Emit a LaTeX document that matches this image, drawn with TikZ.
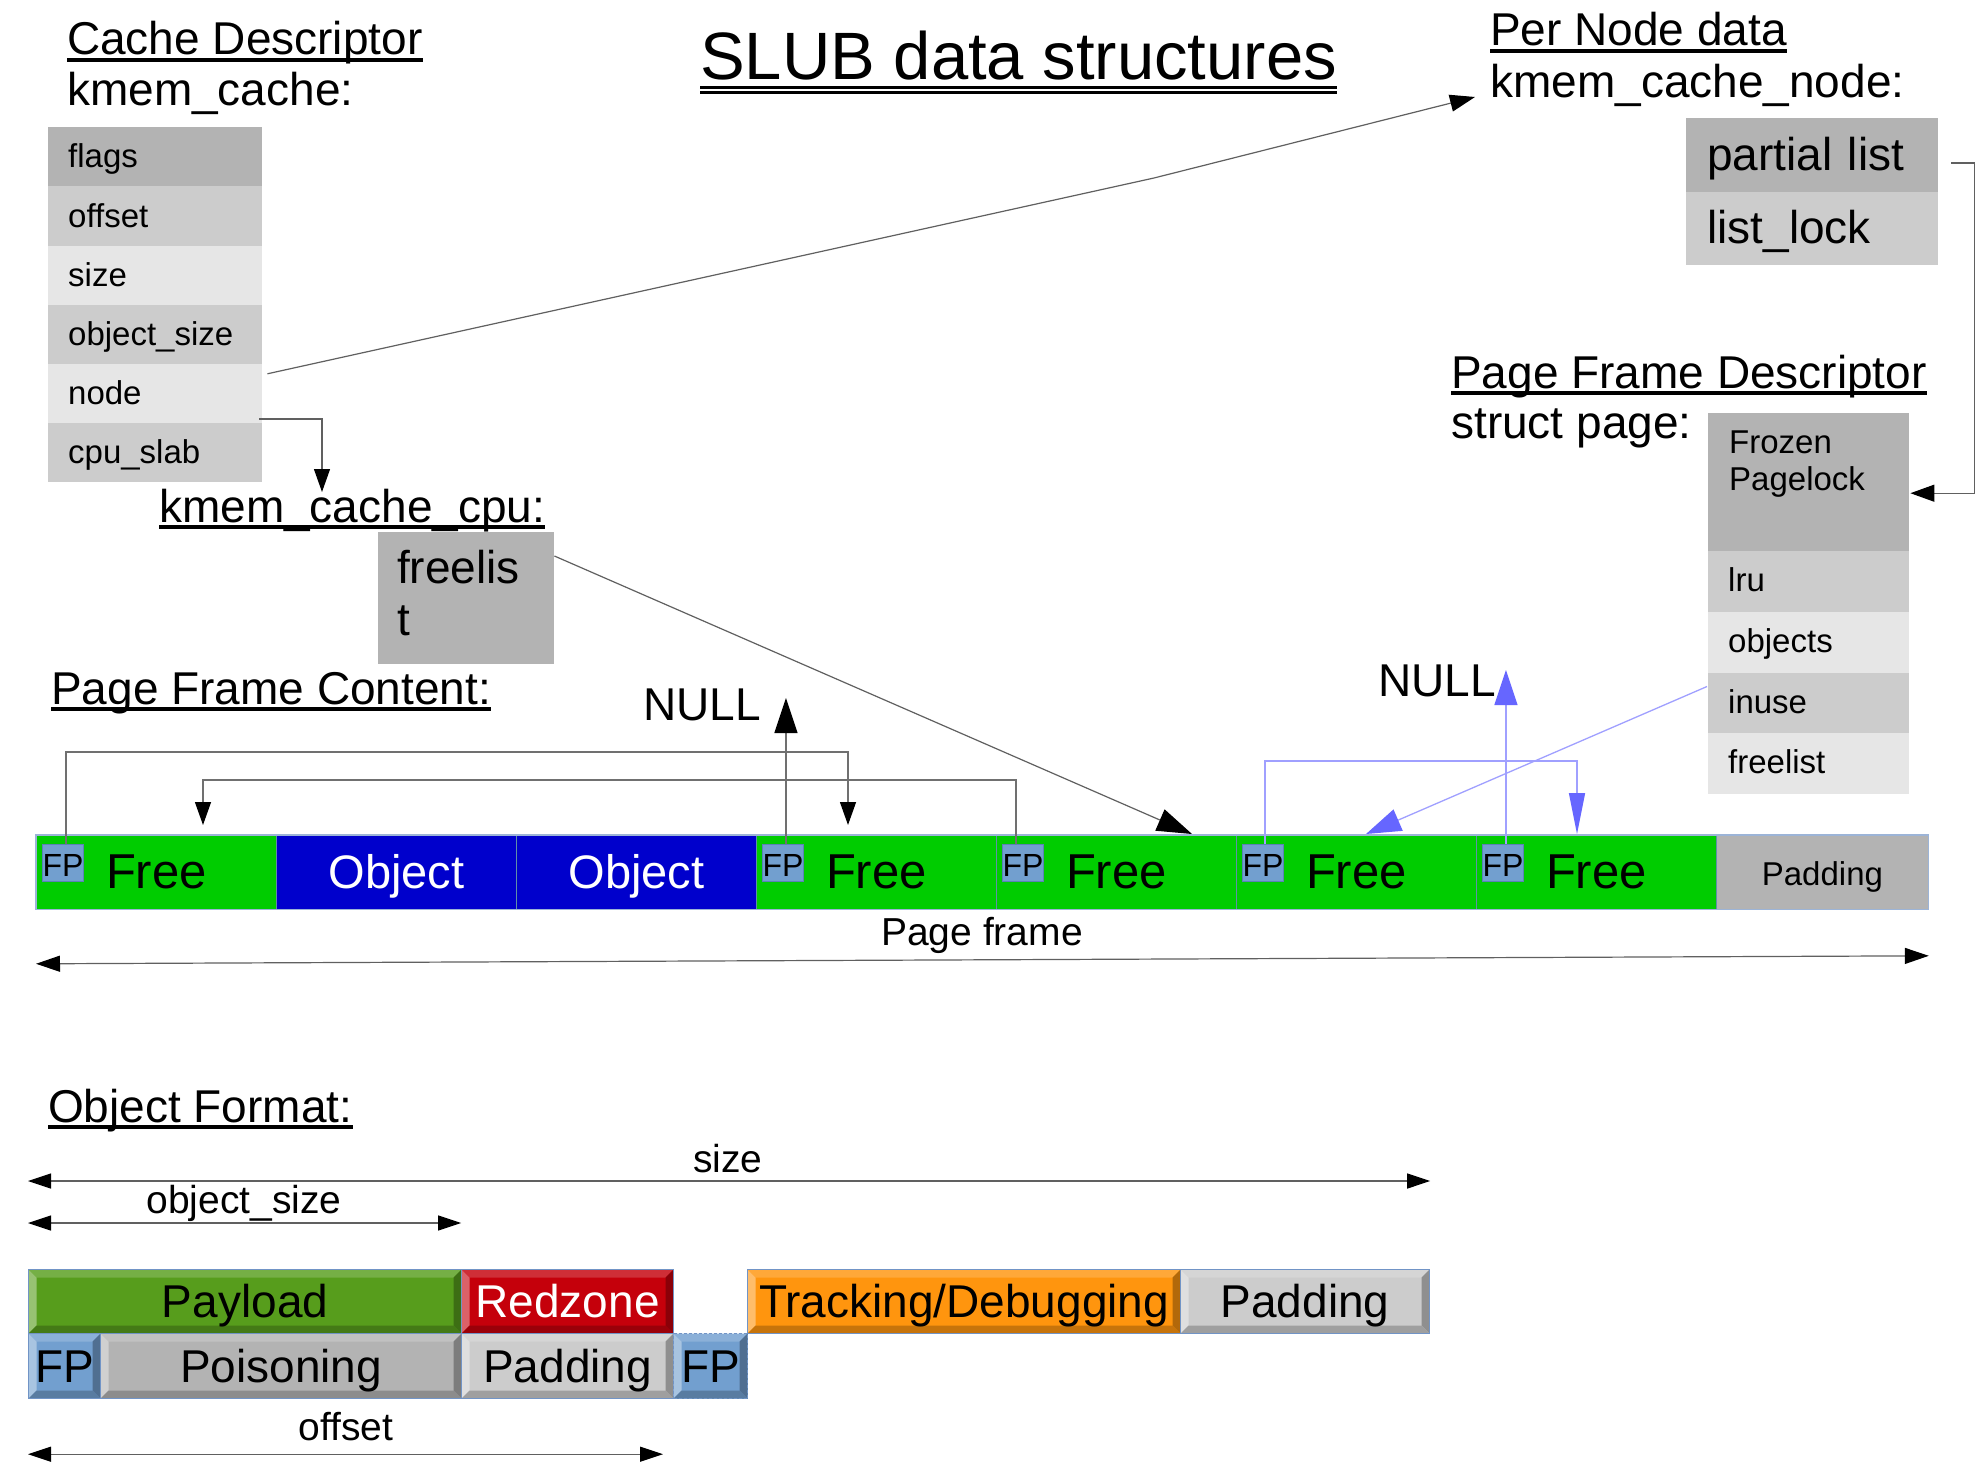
\documentclass[tikz,border=0pt]{standalone}
\usepackage{fontspec}
\setmainfont{Liberation Sans}
\usetikzlibrary{arrows.meta,calc}
\definecolor{g1}{HTML}{E6E6E6}
\definecolor{g2}{HTML}{CCCCCC}
\definecolor{g3}{HTML}{B3B3B3}
\definecolor{fgreen}{HTML}{00CC00}
\definecolor{oblue}{HTML}{0000CC}
\definecolor{fpblue}{HTML}{729FCF}
\definecolor{fpedge}{HTML}{5B82B5}
\definecolor{bord}{HTML}{7194C6}
\definecolor{sepc}{HTML}{5F8FA8}
\definecolor{lgray}{HTML}{707070}
\definecolor{dgray}{HTML}{606060}
\definecolor{bline}{HTML}{A0A0FF}
\definecolor{bhead}{HTML}{6666FF}
\definecolor{pgreen}{HTML}{579D1C}
\definecolor{rred}{HTML}{C5000B}
\definecolor{torange}{HTML}{FF950E}
\newcommand\fsz[2]{\fontsize{#1}{#2}\selectfont}
\begin{document}
\begin{tikzpicture}[x=1pt,y=-1pt,
  hdr/.style={anchor=base west, inner sep=0pt, font=\fsz{46}{52}},
  lbl/.style={anchor=base, inner sep=0pt, font=\fsz{39}{44}},
  uline/.style={line width=3.2pt},
  kc/.style={anchor=north west, minimum width=214pt, minimum height=59.2pt, text width=174pt, inner xsep=20pt, inner ysep=0pt, align=left, font=\fsz{33}{38}, text height=26pt, text depth=4pt, fill=#1},
  pr/.style={anchor=north west, minimum width=201pt, minimum height=60.75pt, text width=161pt, inner xsep=20pt, inner ysep=0pt, align=left, font=\fsz{33}{38}, text height=25pt, text depth=5pt, fill=#1},
  nr/.style={anchor=north west, minimum width=252pt, minimum height=73.5pt, text width=210pt, inner xsep=21pt, inner ysep=0pt, align=left, font=\fsz{46}{52}, text height=36pt, text depth=5pt, fill=#1},
  pc/.style={anchor=north west, minimum width=240pt, minimum height=74pt, inner sep=0pt, font=\fsz{49}{55}, text height=37pt, text depth=5pt, draw=sepc, line width=0.8pt, fill=#1},
  fp/.style={anchor=north west, minimum width=38pt, minimum height=37pt, inner sep=0pt, fill=fpblue, draw=fpedge, line width=1pt, font=\fsz{32}{36}, text height=26pt, text depth=0pt},
  txt/.style={anchor=base west, inner sep=0pt, font=\fsz{33}{38}},
  blk/.style={anchor=north west, inner sep=0pt, draw=bord, line width=1.2pt, fill=#1, font=\fsz{46}{52}, text height=35pt, text depth=3pt,
    path picture={
      \def\pb{path picture bounding box}
      \fill[#1!82!white] (\pb.north west) -- (\pb.north east) -- ([shift={(-8pt,-8pt)}]\pb.north east) -- ([shift={(8pt,-8pt)}]\pb.north west) -- cycle;
      \fill[#1!62!white] (\pb.north west) -- ([shift={(8pt,-8pt)}]\pb.north west) -- ([shift={(8pt,8pt)}]\pb.south west) -- (\pb.south west) -- cycle;
      \fill[#1!70!black] (\pb.north east) -- ([shift={(-8pt,-8pt)}]\pb.north east) -- ([shift={(-8pt,8pt)}]\pb.south east) -- (\pb.south east) -- cycle;
      \fill[#1!78!black] (\pb.south west) -- ([shift={(8pt,8pt)}]\pb.south west) -- ([shift={(-8pt,8pt)}]\pb.south east) -- (\pb.south east) -- cycle;
    }},
  dline/.style={draw=dgray, line width=1.2pt},
  gline/.style={draw=lgray, line width=1.3pt},
  bl/.style={draw=bline, line width=1.3pt},
  tipS/.style={-{Triangle[length=23pt,width=16pt,color=black]}},
  tipL/.style={-{Triangle[length=35pt,width=23pt,color=black]}},
  btipS/.style={-{Triangle[length=41pt,width=16pt,color=bhead]}},
  btipL/.style={-{Triangle[length=35pt,width=23pt,color=bhead]}},
  dbl/.style={{Triangle[length=23pt,width=15pt,color=black]}-{Triangle[length=23pt,width=15pt,color=black]}}
]
\useasboundingbox[fill=white] (0,0) rectangle (1988,1464);

% ---------- title ----------
\node[anchor=base west, inner sep=0pt, font=\fsz{67}{76}] (title) at (700,80) {SLUB data structures};
\draw[line width=3pt] ([yshift=-7pt]title.base west) -- ([yshift=-7pt]title.base east);
\draw[line width=3pt] ([yshift=-12.5pt]title.base west) -- ([yshift=-12.5pt]title.base east);

% ---------- cache descriptor ----------
\node[hdr] (hcd) at (67,55) {Cache Descriptor};
\draw[uline] ([yshift=-5pt]hcd.base west) -- ([yshift=-5pt]hcd.base east);
\node[hdr] (hkc) at (67,105) {kmem\_cache:};
\node[kc=g3] (kflags) at (48,127) {flags};
\node[kc=g2] (koff) at (48,186.2) {offset};
\node[kc=g1] (ksize) at (48,245.4) {size};
\node[kc=g2] (kos) at (48,304.6) {object\_size};
\node[kc=g1] (knode) at (48,363.8) {node};
\node[kc=g2] (kcpu) at (48,423) {cpu\_slab};

% ---------- per node data ----------
\node[hdr] (hpn) at (1490,46) {Per Node data};
\draw[uline] ([yshift=-5pt]hpn.base west) -- ([yshift=-5pt]hpn.base east);
\node[hdr] (hkn) at (1490,97) {kmem\_cache\_node:};
\node[nr=g3] (ppart) at (1686,118) {partial list};
\node[nr=g2] (plock) at (1686,191.5) {list\_lock};

% ---------- page frame descriptor ----------
\node[hdr] (hpf) at (1451,388) {Page Frame Descriptor};
\draw[uline] ([yshift=-5pt]hpf.base west) -- ([yshift=-5pt]hpf.base east);
\node[hdr] (hsp) at (1451,438) {struct page:};
\node[anchor=north west, minimum width=201pt, minimum height=138pt, inner sep=0pt, fill=g3] (pfroz) at (1708,413) {};
\node[txt] (tfroz) at ($(pfroz.north west)+(21,40)$) {Frozen};
\node[txt] (tplock) at ($(pfroz.north west)+(21,77)$) {Pagelock};
\node[pr=g2] (plru) at (1708,551) {lru};
\node[pr=g1] (pobj) at (1708,611.75) {objects};
\node[pr=g2] (pinuse) at (1708,672.5) {inuse};
\node[pr=g1] (pfree) at (1708,733.25) {freelist};

% ---------- kmem_cache_cpu ----------
\node[hdr] (hcpu) at (159,522) {kmem\_cache\_cpu:};
\draw[uline] ([yshift=-5pt]hcpu.base west) -- ([yshift=-5pt]hcpu.base east);
\node[anchor=north west, minimum width=176pt, minimum height=132pt, inner sep=0pt, fill=g3] (fcpu) at (378,532) {};
\node[hdr] (tf1) at ($(fcpu.north west)+(19,51)$) {freelis};
\node[hdr] (tf2) at ($(fcpu.north west)+(19,103)$) {t};

% ---------- page frame content ----------
\node[hdr] (hpfc) at (51,704) {Page Frame Content:};
\draw[uline] ([yshift=-5pt]hpfc.base west) -- ([yshift=-5pt]hpfc.base east);

\node[pc=fgreen] (c1) at (36,835) {Free};
\node[pc=oblue, text=white, font=\fsz{47}{54}] (c2) at (276,835) {Object};
\node[pc=oblue, text=white, font=\fsz{47}{54}] (c3) at (516,835) {Object};
\node[pc=fgreen] (c4) at (756,835) {Free};
\node[pc=fgreen] (c5) at (996,835) {Free};
\node[pc=fgreen] (c6) at (1236,835) {Free};
\node[pc=fgreen] (c7) at (1476,835) {Free};
\node[pc=g3, minimum width=212pt, font=\fsz{33}{38}, text height=28pt, text depth=2pt] (pad) at (1716,835) {Padding};
\draw[draw=bord!70!white, line width=1.2pt] (c1.north west) rectangle (pad.south east);

\node[fp] (fp1) at ($(c1.north west)+(6,9)$) {FP};
\node[fp] (fp4) at ($(c4.north west)+(6,9)$) {FP};
\node[fp] (fp5) at ($(c5.north west)+(6,9)$) {FP};
\node[fp] (fp6) at ($(c6.north west)+(6,9)$) {FP};
\node[fp] (fp7) at ($(c7.north west)+(6,9)$) {FP};

\node[hdr] (null1) at (643,720) {NULL};
\node[hdr] (null2) at (1378,696) {NULL};

% black free-list chain
\draw[gline, tipS] ([xshift=3pt]fp1.north) -- ++(0,-92) -| ($(c4.north west)+(92,-10)$);
\draw[gline, tipS] ([xshift=-7pt]fp5.north) -- ++(0,-64) -| ($(c1.north west)+(167,-10)$);
\draw[gline, tipL] ([xshift=3pt]fp4.north) -- ++(0,-146);

% blue free-list chain
\draw[bl, btipS] ([xshift=2pt]fp6.north) -- ++(0,-83) -| ($(c7.north west)+(101,-1)$);
\draw[bl, btipL] ([xshift=3pt]fp7.north) -- ++(0,-174);
\draw[bl, btipL] ($(pinuse.north west)+(-1,14)$) -- ($(c6.north west)+(130,-1)$);

% page frame dimension
\draw[dline, {Triangle[length=24pt,width=16pt,color=black]}-{Triangle[length=24pt,width=16pt,color=black]}] ($(c1.south west)+(0,54)$) -- ($(pad.south east)+(0,46)$);
\node[lbl] (lpf) at (982,945) {Page frame};

% ---------- connectors between structures ----------
\coordinate (bend) at (1154,178);
\draw[dline, -{Triangle[length=25pt,width=17pt,color=black]}] ($(knode.north east)+(5,10)$) -- (bend) -- ($(hkn.base west)+(-15,0)$);
\draw[dline, tipS] ($(kcpu.north east)+(-3,-4)$) -| ($(hcpu.base west)+(163,-30)$);
\draw[dline, tipL] ($(fcpu.north east)+(0,24)$) -- ($(c5.north west)+(196,-1)$);
\draw[dline, -{Triangle[length=24pt,width=17pt,color=black]}] ($(ppart.east)+(13,8)$) -- ++(23,0) |- ($(pfroz.east)+(1,11)$);

% ---------- object format ----------
\node[hdr] (hof) at (48,1122) {Object Format:};
\draw[uline] ([yshift=-5pt]hof.base west) -- ([yshift=-5pt]hof.base east);

\node[blk=pgreen, minimum width=433pt, minimum height=64pt] (pay) at (28,1269) {Payload};
\node[blk=rred, text=white, minimum width=212pt, minimum height=64pt] (red) at (461,1269) {Redzone};
\node[blk=torange, minimum width=433pt, minimum height=64pt] (trk) at (747,1269) {Tracking/Debugging};
\node[blk=g2, minimum width=249pt, minimum height=64pt] (padA) at (1180,1269) {Padding};
\node[blk=fpblue, minimum width=72pt, minimum height=65pt] (fpa) at (28,1333) {FP};
\node[blk=g3, minimum width=361pt, minimum height=65pt] (pois) at (100,1333) {Poisoning};
\node[blk=g2, minimum width=212pt, minimum height=65pt] (padB) at (461,1333) {Padding};
\node[blk=fpblue, dash pattern=on 3pt off 2pt, minimum width=74pt, minimum height=65pt] (fpb) at (673,1333) {FP};

\draw[dline, dbl] ($(pay.north west)+(0,-88)$) -- ($(padA.north east)+(0,-88)$);
\node[lbl] (lsz) at (728,1172) {size};
\draw[dline, dbl] ($(pay.north west)+(0,-46)$) -- ($(pay.north east)+(-1,-46)$);
\node[lbl] (los) at (244,1213) {object\_size};
\draw[dline, dbl] ($(fpa.south west)+(0,55)$) -- ($(fpb.south west)+(-10,55)$);
\node[lbl] (loff) at (346,1440) {offset};
\end{tikzpicture}
\end{document}
